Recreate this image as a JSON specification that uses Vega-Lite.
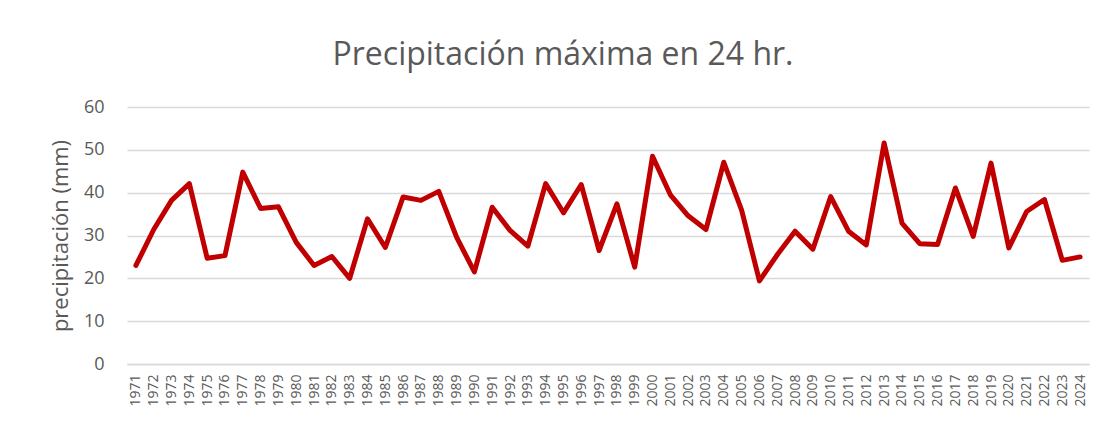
{
  "$schema": "https://vega.github.io/schema/vega-lite/v6.json",
  "width": 962,
  "height": 257,
  "autosize": {"type": "none"},
  "padding": {"left": 127, "top": 107, "right": 16, "bottom": 59},
  "background": "white",
  "title": {
    "text": "Precipitación máxima en 24 hr.",
    "font": "Open Sans",
    "fontSize": 32,
    "fontWeight": "normal",
    "color": "#595959",
    "anchor": "middle",
    "dx": -45,
    "offset": 26
  },
  "data": {
    "values": [
      {"year": "1971", "mm": 23.0}, {"year": "1972", "mm": 31.4}, {"year": "1973", "mm": 38.2},
      {"year": "1974", "mm": 42.1}, {"year": "1975", "mm": 24.7}, {"year": "1976", "mm": 25.3},
      {"year": "1977", "mm": 44.8}, {"year": "1978", "mm": 36.3}, {"year": "1979", "mm": 36.7},
      {"year": "1980", "mm": 28.4}, {"year": "1981", "mm": 23.0}, {"year": "1982", "mm": 25.1},
      {"year": "1983", "mm": 20.0}, {"year": "1984", "mm": 33.9}, {"year": "1985", "mm": 27.2},
      {"year": "1986", "mm": 39.0}, {"year": "1987", "mm": 38.2}, {"year": "1988", "mm": 40.3},
      {"year": "1989", "mm": 29.6}, {"year": "1990", "mm": 21.5}, {"year": "1991", "mm": 36.6},
      {"year": "1992", "mm": 31.2}, {"year": "1993", "mm": 27.5}, {"year": "1994", "mm": 42.1},
      {"year": "1995", "mm": 35.3}, {"year": "1996", "mm": 41.9}, {"year": "1997", "mm": 26.5},
      {"year": "1998", "mm": 37.4}, {"year": "1999", "mm": 22.6}, {"year": "2000", "mm": 48.5},
      {"year": "2001", "mm": 39.5}, {"year": "2002", "mm": 34.6}, {"year": "2003", "mm": 31.4},
      {"year": "2004", "mm": 47.1}, {"year": "2005", "mm": 35.9}, {"year": "2006", "mm": 19.4},
      {"year": "2007", "mm": 25.5}, {"year": "2008", "mm": 31.0}, {"year": "2009", "mm": 26.8},
      {"year": "2010", "mm": 39.1}, {"year": "2011", "mm": 31.0}, {"year": "2012", "mm": 27.8},
      {"year": "2013", "mm": 51.6}, {"year": "2014", "mm": 32.9}, {"year": "2015", "mm": 28.1},
      {"year": "2016", "mm": 27.9}, {"year": "2017", "mm": 41.1}, {"year": "2018", "mm": 29.8},
      {"year": "2019", "mm": 46.9}, {"year": "2020", "mm": 27.1}, {"year": "2021", "mm": 35.6},
      {"year": "2022", "mm": 38.4}, {"year": "2023", "mm": 24.2}, {"year": "2024", "mm": 25.0}
    ]
  },
  "mark": {"type": "line", "color": "#C00000", "strokeWidth": 5, "strokeJoin": "round", "strokeCap": "round"},
  "encoding": {
    "x": {
      "field": "year",
      "type": "ordinal",
      "scale": {"type": "point", "padding": 0.5},
      "axis": {
        "title": null,
        "labelAngle": -90,
        "labelFont": "Open Sans",
        "labelFontSize": 14,
        "labelColor": "#595959",
        "labelPadding": 10,
        "ticks": false,
        "domainColor": "#d9d9d9",
        "domainWidth": 1.5,
        "grid": false
      }
    },
    "y": {
      "field": "mm",
      "type": "quantitative",
      "scale": {"domain": [0, 60], "nice": false},
      "axis": {
        "title": "precipitación (mm)",
        "titleFont": "Open Sans",
        "titleFontSize": 22,
        "titleFontWeight": "normal",
        "titleColor": "#595959",
        "titlePadding": 11,
        "values": [0, 10, 20, 30, 40, 50, 60],
        "labelFont": "Open Sans",
        "labelFontSize": 18,
        "labelColor": "#595959",
        "labelPadding": 23,
        "ticks": false,
        "domain": false,
        "grid": true,
        "gridColor": "#d9d9d9",
        "gridWidth": 1.5
      }
    }
  },
  "config": {"view": {"stroke": null}}
}
